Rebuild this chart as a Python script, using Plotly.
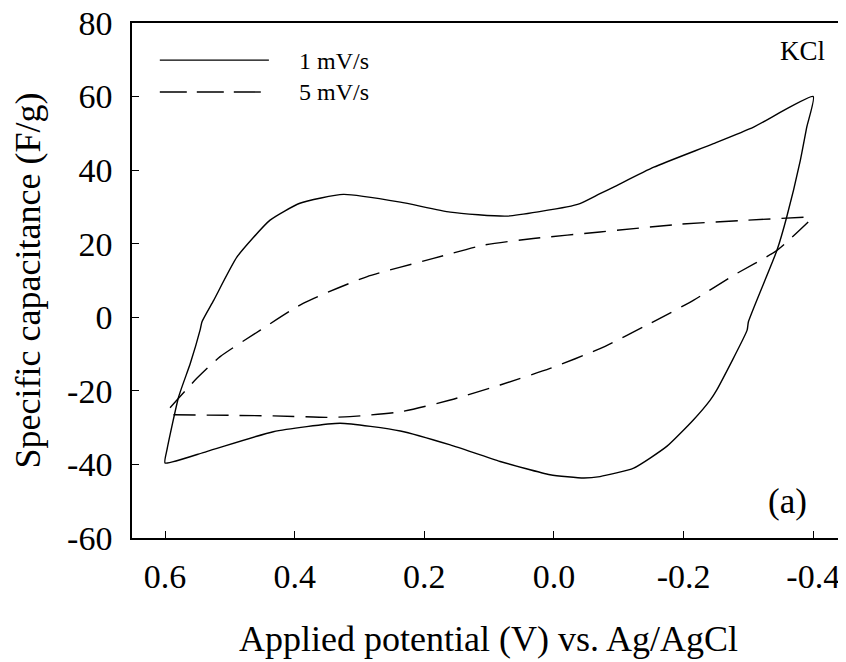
import plotly.graph_objects as go

# 1 mV/s cyclic voltammogram (closed loop): potential (V) and specific capacitance (F/g)
v_1mv = [0.600, 0.536, 0.433, 0.330, 0.237, 0.160, 0.083, 0.006, -0.046, -0.071, -0.123,
         -0.174, -0.215, -0.241, -0.251, -0.298, -0.300, -0.344, -0.359, -0.380, -0.390, -0.400,
         -0.308, -0.246, -0.154, -0.092, -0.071, -0.040, -0.020, 0.073, 0.160, 0.237, 0.325,
         0.392, 0.438, 0.489, 0.525, 0.543, 0.546, 0.561, 0.579, 0.597, 0.600]
c_1mv = [-39.6, -36.5, -31.1, -28.8, -30.9, -34.7, -39.2, -42.8, -43.7, -43.3, -41.0,
         -35.1, -27.9, -22.5, -19.8, -3.5, -1.2, 18.2, 27.2, 42.6, 51.7, 60.0,
         51.7, 47.2, 40.8, 35.4, 33.6, 30.9, 30.0, 27.5, 28.6, 31.3, 33.4,
         31.0, 26.4, 16.4, 4.6, -1.2, -3.5, -12.5, -21.6, -36.0, -39.6]

# 5 mV/s cyclic voltammogram (lower branch, then upper branch)
v_5mv = [0.587, 0.433, 0.350, 0.315, 0.237, 0.160, 0.083, 0.006, -0.071, -0.148, -0.215,
         -0.277, -0.344, -0.400, None,
         -0.385, -0.298, -0.195, -0.071, 0.032, 0.109, 0.186, 0.289, 0.387, 0.453, 0.515,
         0.551, 0.600]
c_5mv = [-26.5, -26.8, -27.2, -27.0, -25.7, -22.5, -18.4, -13.9, -8.5, -1.7, 4.6,
         11.4, 18.2, 27.2, None,
         27.2, 26.4, 25.3, 23.2, 21.4, 19.6, 16.0, 11.0, 3.8, -3.5, -10.7,
         -16.6, -26.1]

x_tick_vals = [0.6, 0.4, 0.2, 0.0, -0.2, -0.4]
x_tick_text = ["0.6", "0.4", "0.2", "0.0", "-0.2", "-0.4"]
y_tick_vals = [-60, -40, -20, 0, 20, 40, 60, 80]
y_tick_text = ["-60", "-40", "-20", "0", "20", "40", "60", "80"]

series_names = ["1 mV/s", "5 mV/s"]

FONT = "Liberation Serif"

fig = go.Figure()
fig.add_trace(go.Scatter(x=v_1mv, y=c_1mv, mode="lines", name=series_names[0],
                         line=dict(color="black", width=1.4, shape="spline", smoothing=0.5),
                         showlegend=False))
fig.add_trace(go.Scatter(x=v_5mv, y=c_5mv, mode="lines", name=series_names[1],
                         line=dict(color="black", width=1.4, dash="22px,11px",
                                   shape="spline", smoothing=0.6),
                         connectgaps=False, showlegend=False))

axis_common = dict(showline=True, linecolor="black", linewidth=1.5, mirror=True,
                   ticks="inside", ticklen=7, tickwidth=1.2, tickcolor="black",
                   showgrid=False, zeroline=False, automargin=False,
                   ticklabeloverflow="allow",
                   tickfont=dict(family=FONT, size=34, color="black"))

fig.update_xaxes(range=[0.651, -0.449], tickmode="array", tickvals=x_tick_vals,
                 ticktext=x_tick_text, ticklabelstandoff=7,
                 title=dict(text="Applied potential (V) vs. Ag/AgCl",
                            font=dict(family=FONT, size=36, color="black"), standoff=32),
                 **axis_common)
fig.update_yaxes(range=[-60, 80], tickmode="array", tickvals=y_tick_vals,
                 ticktext=y_tick_text, ticklabelstandoff=11,
                 title=dict(text="Specific capacitance (F/g)",
                            font=dict(family=FONT, size=36, color="black"), standoff=16),
                 **axis_common)

# manual legend (long line samples as in the original)
fig.add_shape(type="line", xref="paper", yref="paper", x0=0.039, x1=0.192, y0=0.928, y1=0.928,
              line=dict(color="black", width=1.4))
fig.add_shape(type="line", xref="paper", yref="paper", x0=0.039, x1=0.192, y0=0.866, y1=0.866,
              line=dict(color="black", width=1.4, dash="27px,10px"))
fig.add_annotation(text=series_names[0], xref="paper", yref="paper", x=0.231, y=0.926,
                   xanchor="left", yanchor="middle", showarrow=False,
                   font=dict(family=FONT, size=24, color="black"))
fig.add_annotation(text=series_names[1], xref="paper", yref="paper", x=0.231, y=0.866,
                   xanchor="left", yanchor="middle", showarrow=False,
                   font=dict(family=FONT, size=24, color="black"))
fig.add_annotation(text="KCl", xref="paper", yref="paper", x=0.941, y=0.946,
                   xanchor="center", yanchor="middle", showarrow=False,
                   font=dict(family=FONT, size=27, color="black"))
fig.add_annotation(text="(a)", xref="paper", yref="paper", x=0.920, y=0.070,
                   xanchor="center", yanchor="middle", showarrow=False,
                   font=dict(family=FONT, size=35, color="black"))

# page body has an 8px default margin, so the figure is sized to fit the 846x662 window
fig.update_layout(width=838, height=654, margin=dict(l=124, r=1, t=15, b=124, autoexpand=False),
                  paper_bgcolor="white", plot_bgcolor="white", showlegend=False)

fig.write_html("out.html")
